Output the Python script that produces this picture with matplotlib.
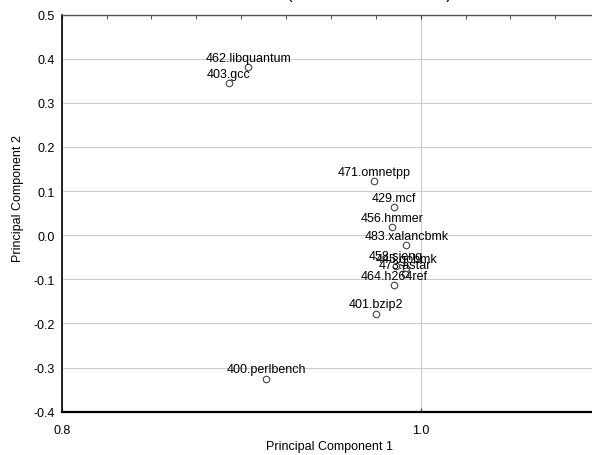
import matplotlib.pyplot as plt
from matplotlib.ticker import MultipleLocator

# datos
names = ['462.libquantum', '403.gcc', '471.omnetpp', '429.mcf', '456.hmmer',
         '483.xalancbmk', '458.sjeng', '445.gobmk', '473.astar', '464.h264ref',
         '401.bzip2', '400.perlbench']
pc1 = [0.904, 0.893, 0.974, 0.985, 0.984, 0.992, 0.986, 0.992, 0.991, 0.985, 0.975, 0.914]
pc2 = [0.381, 0.345, 0.123, 0.064, 0.019, -0.022, -0.069, -0.074, -0.089, -0.114, -0.178, -0.325]

x_ticks = [0.8, 1.0]
y_ticks = [-0.4, -0.3, -0.2, -0.1, 0.0, 0.1, 0.2, 0.3, 0.4, 0.5]

plt.rcParams['font.family'] = ['Liberation Sans', 'DejaVu Sans']
plt.rcParams['font.size'] = 9

fig = plt.figure(figsize=(5.92, 4.56), dpi=100)
# el eje se sale por la derecha, como en la imagen recortada
ax = fig.add_axes([0.1042, 0.095, 1.2128, 0.871])

ax.scatter(pc1, pc2, s=22, facecolors='white', edgecolors='#444444', linewidths=0.8, zorder=3)
for n, x, y in zip(names, pc1, pc2):
    ax.annotate(n, (x, y), xytext=(0, 4.5), textcoords='offset points',
                ha='center', va='baseline', fontsize=9, zorder=4)

ax.set_xlim(0.8, 1.2)
ax.set_ylim(-0.4, 0.5)
ax.set_xticks(x_ticks)
ax.set_xticklabels(['%.1f' % v for v in x_ticks])
ax.set_yticks(y_ticks)
ax.set_yticklabels(['%.1f' % v for v in y_ticks])
ax.xaxis.set_minor_locator(MultipleLocator(0.025))

ax.grid(True, color='#cccccc', linewidth=0.8)
ax.set_axisbelow(True)

ax.tick_params(axis='y', length=0, pad=5)
ax.tick_params(axis='x', which='major', bottom=True, top=True, direction='in', length=3, pad=9,
               color='#333333')
ax.tick_params(axis='x', which='minor', bottom=False, top=True, direction='in', length=3,
               color='#333333')

ax.spines['left'].set_linewidth(1.2)
ax.spines['bottom'].set_linewidth(1.6)
ax.spines['top'].set_color('#555555')
ax.spines['top'].set_linewidth(1.0)

fig.text(330 / 592, 1 - 447 / 456, 'Principal Component 1', ha='center', va='center', fontsize=9)
fig.text(18 / 592, 1 - 199 / 456, 'Principal Component 2', ha='center', va='center',
         rotation=90, fontsize=9)
# titulo casi fuera de la figura, solo asoman los parentesis
fig.text(369 / 592, 1 + 1 / 456, '(SPEC CPU2006 INT)', ha='center', va='baseline', fontsize=12)

fig.savefig('out.png', dpi=100)
